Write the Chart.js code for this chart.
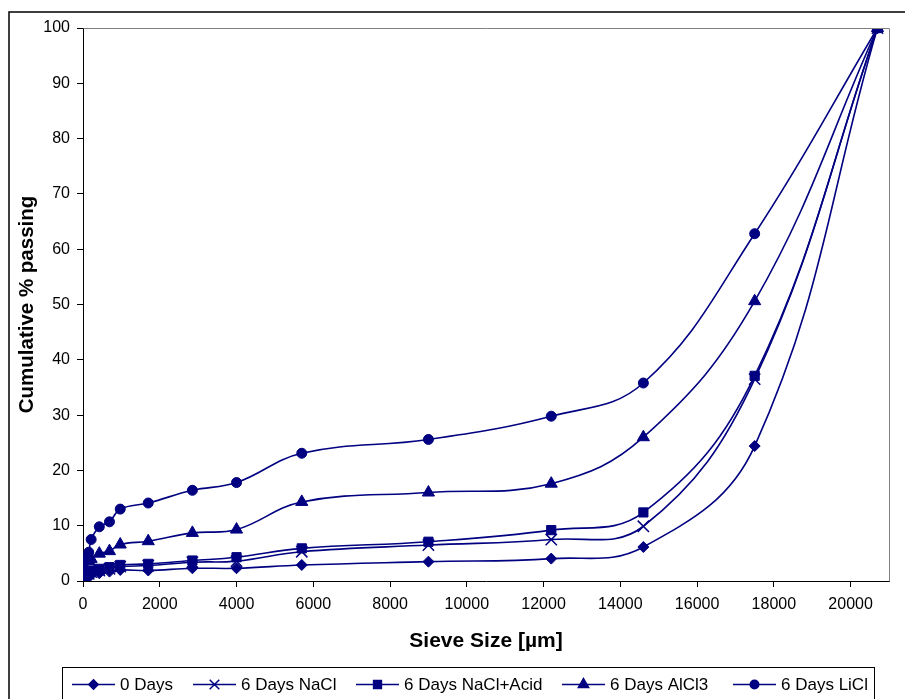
<!DOCTYPE html>
<html>
<head>
<meta charset="utf-8">
<script src="https://cdn.jsdelivr.net/npm/chart.js@4/dist/chart.umd.min.js"></script>
<style>
  html, body { margin: 0; padding: 0; background: #fff; }
  #wrap { width: 905px; height: 699px; position: relative; }
</style>
</head>
<body>
<div id="wrap"><canvas id="c" width="905" height="699"></canvas></div>
<script>
// Sieve sizes in micrometres
const sieveSizes = [0, 75, 150, 212, 425, 690, 970, 1700, 2850, 4000, 5700, 9000, 12200, 14600, 17500, 20700];

// Cumulative % passing for each treatment
const days0       = [0.1, 0.5, 0.9, 1.1, 1.4, 1.7, 2.0, 1.9, 2.3, 2.3, 2.9, 3.5, 4.05, 6.15, 24.4, 100];
const naCl6       = [0.2, 0.8, 1.3, 1.6, 1.9, 2.2, 2.6, 2.8, 3.4, 3.6, 5.3, 6.5, 7.5, 9.9, 36.5, 100];
const naClAcid6   = [0.3, 1.0, 1.6, 1.9, 2.2, 2.5, 2.9, 3.1, 3.7, 4.3, 5.9, 7.1, 9.2, 12.4, 37.1, 100];
const alCl3_6     = [0.8, 2.2, 3.6, 4.0, 4.95, 5.4, 6.6, 7.2, 8.7, 9.3, 14.3, 16.0, 17.6, 26.0, 50.6, 100];
const liCl6       = [1.5, 4.0, 5.2, 7.5, 9.8, 10.7, 13.0, 14.1, 16.4, 17.8, 23.1, 25.6, 29.8, 35.8, 62.8, 100];

const seriesNames = ['0 Days', '6 Days NaCl', '6 Days NaCl+Acid', '6 Days AlCl3', '6 Days LiCl'];
const seriesValues = [days0, naCl6, naClAcid6, alCl3_6, liCl6];
const markerStyles = ['rectRot', 'crossRot', 'rect', 'triangle', 'circle'];
const markerRadii = [5.5, 8, 6.5, 7, 5];

const xTickValues = [0, 2000, 4000, 6000, 8000, 10000, 12000, 14000, 16000, 18000, 20000];

const NAVY = '#000080';
const FONT = "'Liberation Sans', Arial, sans-serif";

const datasets = seriesNames.map((name, i) => ({
  label: name,
  data: sieveSizes.map((x, j) => ({ x: x, y: seriesValues[i][j] })),
  showLine: true,
  borderColor: NAVY,
  backgroundColor: NAVY,
  borderWidth: 1.6,
  tension: 0.4,
  pointStyle: markerStyles[i],
  pointRadius: markerRadii[i],
  pointBorderWidth: markerStyles[i] === 'crossRot' ? 1.5 : 1,
  pointBorderColor: NAVY,
  pointBackgroundColor: NAVY
}));

// Outer frame, plot-area frame and the boxed legend below the axes
const decorations = {
  id: 'decorations',
  beforeDraw(chart) {
    const ctx = chart.ctx;
    ctx.save();
    ctx.fillStyle = '#fff';
    ctx.fillRect(0, 0, chart.width, chart.height);
    ctx.restore();
  },
  afterDatasetsDraw(chart) {
    const ctx = chart.ctx;
    const a = chart.chartArea;
    ctx.save();
    // grey top/right edges of the plot area
    ctx.strokeStyle = '#808080';
    ctx.lineWidth = 1;
    ctx.beginPath();
    ctx.moveTo(Math.round(a.left) + 0.5, Math.round(a.top) + 0.5);
    ctx.lineTo(Math.round(a.right) + 0.5, Math.round(a.top) + 0.5);
    ctx.lineTo(Math.round(a.right) + 0.5, Math.round(a.bottom) + 0.5);
    ctx.stroke();
    // outer chart frame
    ctx.strokeStyle = '#000';
    ctx.lineWidth = 1.5;
    ctx.strokeRect(9, 12, 1000, 1000);

    // legend
    const boxL = 62, boxT = 667, boxR = 874, boxB = 712;
    ctx.lineWidth = 1;
    ctx.strokeRect(boxL + 0.5, boxT + 0.5, boxR - boxL, boxB - boxT);
    ctx.font = '17px ' + FONT;
    ctx.textBaseline = 'middle';
    const cy = 684.5;
    const starts = [72, 193, 356, 562, 733];
    const lineLen = 43;
    chart.data.datasets.forEach((ds, i) => {
      const x0 = starts[i];
      ctx.strokeStyle = NAVY;
      ctx.lineWidth = 1.5;
      ctx.beginPath();
      ctx.moveTo(x0, cy);
      ctx.lineTo(x0 + lineLen, cy);
      ctx.stroke();
      ctx.fillStyle = NAVY;
      Chart.helpers.drawPoint(ctx, {
        pointStyle: ds.pointStyle,
        radius: ds.pointRadius * 0.85,
        rotation: 0,
        borderWidth: ds.pointBorderWidth
      }, x0 + lineLen / 2, cy);
      ctx.fillStyle = '#000';
      ctx.fillText(ds.label, x0 + lineLen + 5, cy + 1);
    });
    ctx.restore();
  }
};

new Chart(document.getElementById('c'), {
  type: 'scatter',
  data: { datasets: datasets },
  plugins: [decorations],
  options: {
    responsive: false,
    animation: false,
    devicePixelRatio: 1,
    layout: { padding: { top: 28, right: 16, bottom: 43, left: 10 } },
    plugins: {
      legend: { display: false },
      tooltip: { enabled: false }
    },
    scales: {
      x: {
        type: 'linear',
        min: 0,
        max: 21000,
        afterBuildTicks(scale) {
          scale.ticks = xTickValues.map(v => ({ value: v }));
        },
        afterFit(scale) { scale.height = 75; },
        grid: {
          drawOnChartArea: false,
          drawTicks: true,
          tickLength: 6,
          color: '#000'
        },
        border: { color: '#000', width: 1 },
        ticks: {
          color: '#000',
          padding: 8,
          maxRotation: 0,
          autoSkip: false,
          font: { family: FONT, size: 16 },
          callback: v => String(v)
        },
        title: {
          display: true,
          text: 'Sieve Size [µm]',
          color: '#000',
          font: { family: FONT, size: 21, weight: 'bold' },
          padding: { top: 0, bottom: 2 }
        }
      },
      y: {
        type: 'linear',
        min: 0,
        max: 100,
        afterFit(scale) { scale.width = 73; },
        grid: {
          drawOnChartArea: false,
          drawTicks: true,
          tickLength: 6,
          color: '#000'
        },
        border: { color: '#000', width: 1 },
        ticks: {
          stepSize: 10,
          color: '#000',
          padding: 7,
          font: { family: FONT, size: 16 }
        },
        title: {
          display: true,
          text: 'Cumulative % passing',
          color: '#000',
          font: { family: FONT, size: 20.5, weight: 'bold' },
          padding: { top: 5, bottom: 0 }
        }
      }
    }
  }
});
</script>
</body>
</html>
